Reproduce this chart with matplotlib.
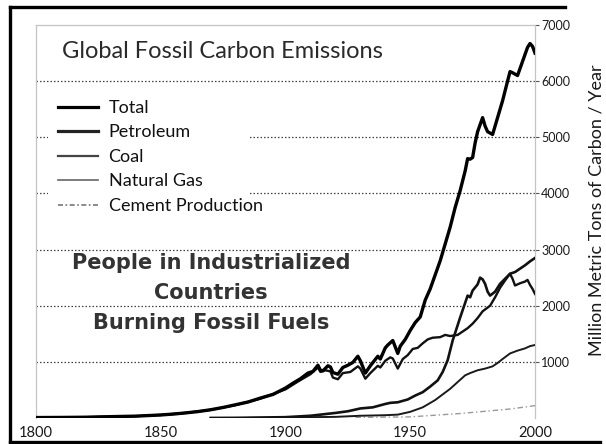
import matplotlib
matplotlib.use("Agg")
import matplotlib.pyplot as plt
from matplotlib.patches import Rectangle
from matplotlib.lines import Line2D

# ---------------- data (million metric tons of carbon / year) ----------------
total_years = [1800, 1810, 1820, 1830, 1840, 1850, 1855, 1860, 1865, 1870, 1875, 1880,
               1885, 1890, 1895, 1900, 1903, 1906, 1909, 1911, 1913, 1914, 1915, 1917,
               1918, 1919, 1921, 1923, 1925, 1927, 1929, 1930, 1932, 1934, 1937, 1938,
               1940, 1941, 1943, 1945, 1946, 1948, 1950, 1952, 1954, 1956, 1958, 1960,
               1962, 1964, 1966, 1968, 1970, 1972, 1973, 1974, 1975, 1976, 1977, 1979,
               1980, 1981, 1983, 1985, 1987, 1989, 1990, 1991, 1993, 1995, 1997, 1998,
               1999, 2000]
total_vals = [8, 10, 14, 24, 33, 54, 70, 91, 115, 147, 188, 236,
              285, 356, 420, 534, 620, 700, 800, 830, 940, 850, 840, 930,
              910, 810, 780, 900, 940, 990, 1100, 1020, 800, 930, 1100, 1050,
              1250, 1300, 1380, 1150, 1280, 1400, 1560, 1700, 1800, 2100, 2300, 2550,
              2800, 3100, 3400, 3750, 4050, 4400, 4620, 4610, 4640, 4900, 5100, 5350,
              5200, 5100, 5050, 5350, 5650, 6000, 6170, 6150, 6100, 6350, 6600, 6670,
              6620, 6500]

petro_years = [1870, 1880, 1890, 1900, 1910, 1920, 1925, 1930, 1935, 1940, 1942, 1945,
               1949, 1952, 1955, 1958, 1961, 1963, 1965, 1967, 1970, 1972, 1973, 1974,
               1975, 1977, 1978, 1979, 1980, 1981, 1982, 1984, 1986, 1988, 1990, 1992,
               1994, 1996, 1998, 2000]
petro_vals = [1, 3, 8, 15, 40, 90, 120, 170, 190, 250, 270, 280,
              330, 400, 460, 560, 670, 820, 1030, 1380, 1790, 2050, 2180, 2150,
              2270, 2380, 2500, 2470, 2390, 2250, 2180, 2250, 2390, 2480, 2570, 2600,
              2660, 2720, 2790, 2850]

coal_years = [1800, 1810, 1820, 1830, 1840, 1850, 1860, 1870, 1880, 1890, 1900, 1905,
              1910, 1913, 1914, 1916, 1918, 1919, 1921, 1923, 1926, 1929, 1930, 1932,
              1934, 1937, 1938, 1940, 1942, 1943, 1945, 1947, 1949, 1951, 1953, 1955,
              1957, 1959, 1962, 1964, 1966, 1969, 1971, 1973, 1975, 1977, 1979, 1982,
              1984, 1986, 1988, 1990, 1991, 1992, 1994, 1996, 1997, 1998, 1999, 2000]
coal_vals = [8, 10, 14, 24, 33, 54, 90, 145, 230, 345, 510, 650,
             780, 900, 820, 850, 830, 720, 690, 800, 820, 920, 880, 700,
             800, 930, 900, 1020, 1080, 1060, 880, 1050, 1120, 1230, 1250, 1330,
             1400, 1430, 1440, 1480, 1460, 1480, 1540, 1600, 1680, 1780, 1900, 2000,
             2150, 2320, 2450, 2570, 2480, 2360, 2400, 2430, 2460, 2370, 2300, 2210]

gas_years = [1885, 1900, 1910, 1920, 1930, 1940, 1945, 1950, 1955, 1960, 1963, 1966,
             1969, 1972, 1974, 1977, 1980, 1983, 1985, 1987, 1990, 1993, 1996, 1998, 2000]
gas_vals = [2, 10, 15, 20, 40, 50, 60, 110, 190, 320, 420, 520,
            640, 760, 800, 850, 880, 920, 980, 1050, 1150, 1200, 1240, 1280, 1300]

cement_years = [1928, 1940, 1950, 1960, 1970, 1980, 1990, 2000]
cement_vals = [10, 15, 20, 50, 80, 120, 160, 220]

series_labels = ["Total", "Petroleum", "Coal", "Natural Gas", "Cement Production"]
x_ticks = [1800, 1850, 1900, 1950, 2000]
y_ticks = [1000, 2000, 3000, 4000, 5000, 6000, 7000]

# ---------------- figure ----------------
W, H = 606, 444
fig = plt.figure(figsize=(W / 100, H / 100), dpi=100)
fig.patch.set_facecolor("white")

def fx(px):
    return px / W

def fy(py):
    return 1 - py / H

ax = fig.add_axes([fx(36), fy(418), fx(535) - fx(36), fy(25) - fy(418)])
ax.set_xlim(1800, 2000)
ax.set_ylim(0, 7000)
ax.set_axisbelow(True)

font = "Lato"

for s in ax.spines.values():
    s.set_color("#c4c4c4")
    s.set_linewidth(0.9)
ax.spines["bottom"].set_visible(False)

ax.set_xticks(x_ticks)
ax.set_xticklabels([str(v) for v in x_ticks], fontsize=10.5, family=font,
                   color="#1a1a1a")
ax.tick_params(axis="x", length=0, pad=6)

ax.yaxis.tick_right()
ax.set_yticks(y_ticks)
ax.set_yticklabels([str(v) for v in y_ticks], fontsize=9, family=font,
                   color="#1a1a1a")
ax.tick_params(axis="y", length=3, width=0.8, color="#555555", pad=1.5)

ax.yaxis.grid(True, color="#444444", linewidth=0.9, linestyle=(0, (1.2, 1.6)))
ax.get_ygridlines()[-1].set_visible(False)

# white box behind legend (hides grid lines)
ax.add_patch(Rectangle((fx(48), fy(224)), fx(250) - fx(48), fy(88) - fy(224),
                       transform=fig.transFigure, facecolor="white",
                       edgecolor="none", zorder=1))

ax.plot(cement_years, cement_vals, color="#9a9a9a", linewidth=1.0,
        linestyle=(0, (4, 2, 1, 2)), zorder=2)
ax.plot(gas_years, gas_vals, color="#1a1a1a", linewidth=1.4, zorder=3)
ax.plot(coal_years, coal_vals, color="#111111", linewidth=1.7, zorder=3)
ax.plot(petro_years, petro_vals, color="#111111", linewidth=1.9, zorder=3)
ax.plot(total_years, total_vals, color="black", linewidth=2.4, zorder=4)

# legend
handles = [
    Line2D([], [], color="black", linewidth=2.3),
    Line2D([], [], color="#222222", linewidth=2.3),
    Line2D([], [], color="#444444", linewidth=1.6),
    Line2D([], [], color="#666666", linewidth=1.2),
    Line2D([], [], color="#777777", linewidth=1.2, linestyle=(0, (3, 1.5, 1, 1.5))),
]
leg = fig.legend(handles, series_labels, loc="upper left",
                 bbox_to_anchor=(fx(58), fy(100)), bbox_transform=fig.transFigure,
                 frameon=False, borderpad=0, borderaxespad=0,
                 handlelength=2.2, handletextpad=0.6, labelspacing=0.47,
                 prop={"family": font, "size": 13})
for t in leg.get_texts():
    t.set_color("#111111")

fig.text(fx(62), fy(52), "Global Fossil Carbon Emissions", family=font,
         fontsize=17, color="#2a2a2a", ha="left", va="center")

comic_lines = ["People in Industrialized", "Countries", "Burning Fossil Fuels"]
for txt, py in zip(comic_lines, [263, 293, 323]):
    fig.text(fx(211), fy(py), txt, family="DejaVu Sans", fontsize=15,
             weight="bold", color="#333333", ha="center", va="center")

fig.text(fx(597), fy(210), "Million Metric Tons of Carbon / Year", family=font,
         fontsize=13, rotation=90, ha="center", va="center", color="#1a1a1a")

# outer black frame (scanned border)
frame_kw = dict(color="black", linewidth=2.4, transform=fig.transFigure, zorder=10)
fig.add_artist(Line2D([fx(10), fx(10)], [fy(7), fy(442)], **frame_kw))
fig.add_artist(Line2D([fx(10), fx(565)], [fy(7), fy(7)], **frame_kw))
fig.add_artist(Line2D([fx(10), fx(600)], [fy(442), fy(442)], **frame_kw))

fig.savefig("out.png", dpi=100)
